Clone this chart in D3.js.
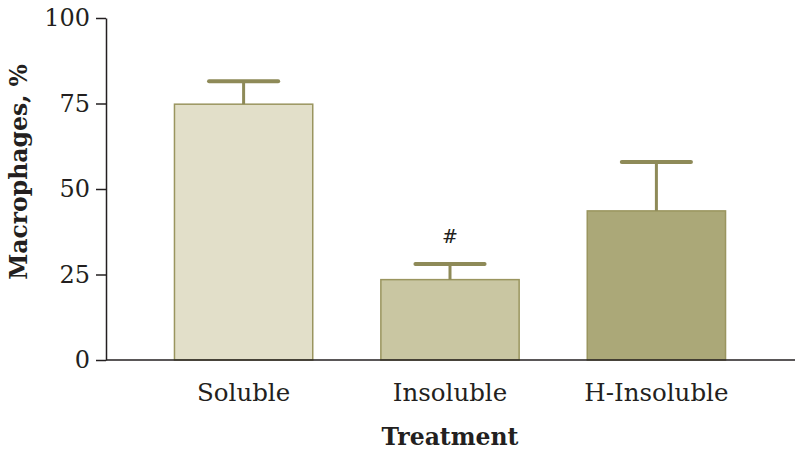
<!DOCTYPE html>
<html>
<head>
<meta charset="utf-8">
<script src="https://cdn.jsdelivr.net/npm/d3@7"></script>
<style>
  body { margin: 0; background: #fff; }
  text { font-family: "DejaVu Serif", serif; fill: #231f20; }
</style>
</head>
<body>
<div id="chart"></div>
<script>
// Data
const treatments = ["Soluble", "Insoluble", "H-Insoluble"];
const macrophages = [74.8, 23.5, 43.6];
const errors = [6.7, 4.6, 14.3];
const marks = ["", "#", ""];
const yTicks = [0, 25, 50, 75, 100];

const fills = ["#e2dfc9", "#c9c6a2", "#aba878"];
const barStroke = "#9a955f";
const errColor = "#8e8a58";

const width = 800, height = 455;

const svg = d3.select("#chart")
  .append("svg")
  .attr("width", width)
  .attr("height", height);

const x = d3.scaleBand()
  .domain(treatments)
  .range([140, 760])
  .paddingInner(0.33)
  .paddingOuter(0.167);

const y = d3.scaleLinear()
  .domain([0, 100])
  .range([360, 18]);

// bars
svg.selectAll("rect.bar")
  .data(treatments)
  .enter()
  .append("rect")
  .attr("class", "bar")
  .attr("x", d => x(d))
  .attr("y", (d, i) => y(macrophages[i]))
  .attr("width", x.bandwidth())
  .attr("height", (d, i) => y(0) - y(macrophages[i]))
  .attr("fill", (d, i) => fills[i])
  .attr("stroke", barStroke)
  .attr("stroke-width", 1.5);

// error bars (upper only)
const capW = x.bandwidth() * 0.5;
const err = svg.selectAll("g.err")
  .data(treatments)
  .enter()
  .append("g")
  .attr("class", "err");

err.append("line")
  .attr("x1", d => x(d) + x.bandwidth() / 2)
  .attr("x2", d => x(d) + x.bandwidth() / 2)
  .attr("y1", (d, i) => y(macrophages[i]))
  .attr("y2", (d, i) => y(macrophages[i] + errors[i]))
  .attr("stroke", errColor)
  .attr("stroke-width", 3);

err.append("line")
  .attr("x1", d => x(d) + x.bandwidth() / 2 - capW / 2)
  .attr("x2", d => x(d) + x.bandwidth() / 2 + capW / 2)
  .attr("y1", (d, i) => y(macrophages[i] + errors[i]))
  .attr("y2", (d, i) => y(macrophages[i] + errors[i]))
  .attr("stroke", errColor)
  .attr("stroke-width", 4)
  .attr("stroke-linecap", "round");

// significance marks
svg.selectAll("text.mark")
  .data(treatments)
  .enter()
  .append("text")
  .attr("class", "mark")
  .attr("x", d => x(d) + x.bandwidth() / 2)
  .attr("y", (d, i) => y(macrophages[i] + errors[i]) - 21)
  .attr("text-anchor", "middle")
  .style("font-size", "19px")
  .style("font-weight", "300")
  .text((d, i) => marks[i]);

// y axis
const yAxis = svg.append("g")
  .attr("transform", "translate(106,0)")
  .call(d3.axisLeft(y).tickValues(yTicks).tickSize(10).tickSizeOuter(0).tickPadding(6));
yAxis.select(".domain").attr("stroke", "#231f20").attr("stroke-width", 1.5);
yAxis.selectAll(".tick line").attr("stroke", "#231f20").attr("stroke-width", 1.5);
yAxis.selectAll(".tick text")
  .style("font-size", "24px")
  .attr("fill", "#231f20");

// x axis line
svg.append("line")
  .attr("x1", 106)
  .attr("x2", 795)
  .attr("y1", y(0))
  .attr("y2", y(0))
  .attr("stroke", "#231f20")
  .attr("stroke-width", 1.5);

// x labels
svg.selectAll("text.xlab")
  .data(treatments)
  .enter()
  .append("text")
  .attr("class", "xlab")
  .attr("x", d => x(d) + x.bandwidth() / 2)
  .attr("y", 401)
  .attr("text-anchor", "middle")
  .style("font-size", "24.5px")
  .text(d => d);

// axis titles
svg.append("text")
  .attr("x", 450)
  .attr("y", 445)
  .attr("text-anchor", "middle")
  .style("font-size", "23.5px")
  .style("font-weight", "bold")
  .text("Treatment");

svg.append("text")
  .attr("transform", "translate(27,172) rotate(-90)")
  .attr("text-anchor", "middle")
  .style("font-size", "23.5px")
  .style("font-weight", "bold")
  .text("Macrophages, %");
</script>
</body>
</html>
